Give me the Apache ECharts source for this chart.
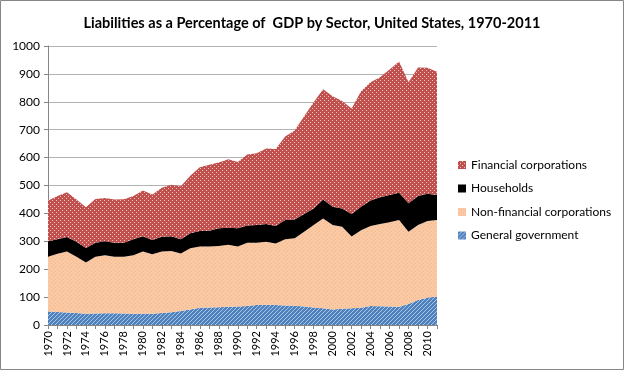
<!DOCTYPE html>
<html><head><meta charset="utf-8">
<script src="https://cdn.jsdelivr.net/npm/echarts@6/dist/echarts.min.js"></script>
<style>html,body{margin:0;padding:0;background:#fff}#c{width:624px;height:370px}</style>
</head><body><div id="c"></div>
<script>
const years = [];
for (let y = 1970; y <= 2011; y++) years.push(String(y));
const government = [48,47,45,43,40,41,42,42,41,40,40,40,43,46,50,56,62,63,64,65,66,68,72,73,72,70,69,66,63,60,56,58,60,62,68,67,66,65,75,90,98,102];
const nonFinancial = [197,208,218,202,184,204,208,203,204,210,223,214,220,219,206,219,219,218,219,223,215,227,223,225,220,237,242,268,295,322,302,294,257,278,287,295,302,311,259,268,275,274];
const households = [55,52,52,53,52,50,50,50,50,57,55,51,53,53,51,54,56,57,64,61,66,62,63,64,63,69,67,64,60,68,66,66,81,84,91,96,98,98,102,104,97,90];
const financial = [145,155,161,152,146,157,155,155,156,155,164,163,176,185,190,206,228,236,235,245,237,254,258,271,276,300,319,350,380,395,396,385,378,414,424,430,450,470,434,461,452,442];
const seriesNames = ['General government','Non-financial corporations','Households','Financial corporations'];
const yTicks = {min:0, max:1000, interval:100};

function tile(size, base, draw) {
  const c = document.createElement('canvas');
  c.width = size; c.height = size;
  const g = c.getContext('2d');
  g.fillStyle = base; g.fillRect(0,0,size,size);
  draw(g);
  return {image: c, repeat: 'repeat'};
}
const finPat = tile(4, '#c0504d', g => { g.fillStyle='rgba(255,235,235,0.75)'; g.fillRect(0,0,1,1); g.fillRect(2,2,1,1); });
const nfPat = tile(4, '#fac9a3', g => { g.fillStyle='#efb88e'; g.fillRect(1,1,1,1); g.fillRect(3,3,1,1); });
const hhPat = '#000000';
const govPat = tile(4, '#4f81bd', g => { g.fillStyle='#a9c3e4'; for (let i=0;i<4;i++) g.fillRect(3-i,i,1,1); });
const fills = [govPat, nfPat, hhPat, finPat];
const data = [government, nonFinancial, households, financial];

const chart = echarts.init(document.getElementById('c'), null, {renderer:'canvas'});
const font = 'Lato, "Liberation Sans", sans-serif';
chart.setOption({
  animation: false,
  backgroundColor: '#fff',
  textStyle: {fontFamily: font},
  title: {
    text: 'Liabilities as a Percentage of  GDP by Sector, United States, 1970-2011',
    left: 'center', top: 11,
    textStyle: {fontFamily: font, fontWeight: 'bold', fontSize: 14.5, color: '#000'}
  },
  graphic: [{type:'rect', shape:{x:0.5,y:0.5,width:623,height:369}, style:{fill:'none', stroke:'#868686', lineWidth:1}, silent:true}],
  legend: {
    orient: 'vertical', left: 453, top: 154,
    itemWidth: 8, itemHeight: 8, itemGap: 11.5,
    icon: 'rect',
    textStyle: {fontFamily: font, fontSize: 12, color: '#000'},
    data: ['Financial corporations','Households','Non-financial corporations','General government']
  },
  grid: {left: 48, right: 187, top: 46, bottom: 45, containLabel: false},
  xAxis: {
    type: 'category', data: years, boundaryGap: false,
    axisLine: {lineStyle: {color: '#868686'}},
    axisTick: {show: true, interval: 0, length: 4, lineStyle: {color: '#868686'}},
    axisLabel: {rotate: 90, interval: 1, fontSize: 11, color: '#000', margin: 6}
  },
  yAxis: {
    type: 'value', min: yTicks.min, max: yTicks.max, interval: yTicks.interval,
    axisLine: {show: true, lineStyle: {color: '#868686'}},
    axisTick: {show: true, length: 4, lineStyle: {color: '#868686'}},
    axisLabel: {fontSize: 12, color: '#000', margin: 8, formatter: v => String(v)},
    splitLine: {lineStyle: {color: '#b3b3b3'}}
  },
  series: seriesNames.map((n, i) => ({
    name: n, type: 'line', stack: 'total', data: data[i],
    symbol: 'none', showSymbol: false,
    lineStyle: {width: 0},
    itemStyle: {color: fills[i]},
    areaStyle: {color: fills[i], opacity: 1},
    z: 2
  }))
});
</script></body></html>
